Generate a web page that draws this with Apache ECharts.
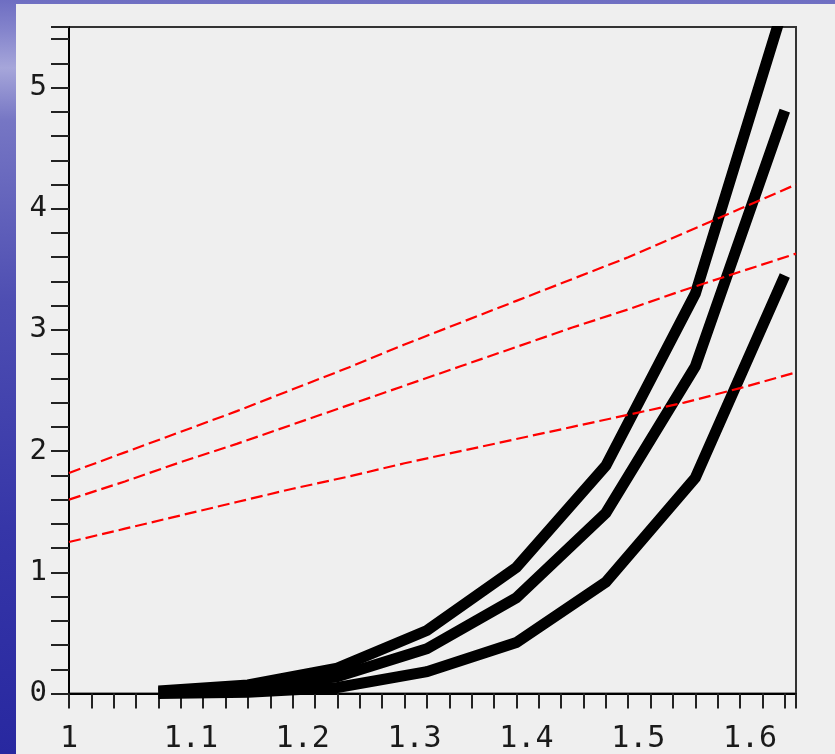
<!DOCTYPE html>
<html>
<head>
<meta charset="utf-8">
<script src="https://cdn.jsdelivr.net/npm/echarts@6/dist/echarts.min.js"></script>
<style>
html,body{margin:0;padding:0;background:#2a2aa0;}
#chart{width:835px;height:754px;}
</style>
</head>
<body>
<div id="chart"></div>
<script>
// ---- data ----
var xTickLabels = ['1', '1.1', '1.2', '1.3', '1.4', '1.5', '1.6'];
var yTickLabels = ['0', '1', '2', '3', '4', '5'];

var xBlack = [1.08, 1.16, 1.24, 1.32, 1.40, 1.48, 1.56, 1.64];
var blackTop = [0.02, 0.07, 0.21, 0.52, 1.04, 1.88, 3.30, 5.70];
var blackMid = [0.01, 0.04, 0.14, 0.37, 0.79, 1.49, 2.70, 4.81];
var blackLow = [0.00, 0.01, 0.05, 0.18, 0.42, 0.92, 1.78, 3.45];

var xRed = [1.00, 1.05, 1.10, 1.15, 1.20, 1.25, 1.30, 1.35, 1.40, 1.45, 1.50, 1.55, 1.60, 1.65];
var redTop = [1.82, 1.99, 2.16, 2.33, 2.51, 2.69, 2.88, 3.06, 3.24, 3.42, 3.60, 3.80, 4.00, 4.20];
var redMid = [1.60, 1.75, 1.91, 2.06, 2.22, 2.38, 2.54, 2.70, 2.86, 3.02, 3.17, 3.33, 3.48, 3.63];
var redLow = [1.25, 1.36, 1.47, 1.58, 1.69, 1.79, 1.90, 2.00, 2.10, 2.20, 2.30, 2.40, 2.52, 2.65];

function pairs(xs, ys) {
  return xs.map(function (x, i) { return [x, ys[i]]; });
}

var chart = echarts.init(document.getElementById('chart'), null, {renderer: 'canvas'});

var FONT = '"DejaVu Sans Mono", monospace';

function blackSeries(ys) {
  return {
    type: 'line', data: pairs(xBlack, ys), symbol: 'none', showSymbol: false,
    clip: true, z: 2,
    lineStyle: {color: '#000', width: 11, cap: 'butt', join: 'miter'}
  };
}
function redSeries(ys) {
  return {
    type: 'line', data: pairs(xRed, ys), symbol: 'none', showSymbol: false,
    clip: true, z: 3,
    lineStyle: {color: '#ff0000', width: 2.2, type: [12, 5]}
  };
}

var option = {
  animation: false,
  backgroundColor: 'transparent',
  graphic: [
    {
      type: 'rect', z: -100, silent: true,
      shape: {x: 0, y: 0, width: 835, height: 754},
      style: {
        fill: new echarts.graphic.LinearGradient(0, 0, 0, 1, [
          {offset: 0, color: '#6e6ec2'},
          {offset: 0.04, color: '#8484cc'},
          {offset: 0.09, color: '#a6a6da'},
          {offset: 0.16, color: '#7676c4'},
          {offset: 0.4, color: '#4e4eb2'},
          {offset: 0.7, color: '#3636a8'},
          {offset: 1, color: '#2828a0'}
        ])
      }
    },
    {
      type: 'rect', z: -99, silent: true,
      shape: {x: 16, y: 4, width: 819, height: 750},
      style: {fill: '#efefef'}
    },
    {
      // mask above the plot frame so clipped thick lines end at the frame
      type: 'rect', z: 100, silent: true,
      shape: {x: 72, y: 4, width: 723, height: 22},
      style: {fill: '#efefef'}
    }
  ],
  grid: {
    left: 69, right: 39, top: 27, bottom: 60.5,
    show: true, backgroundColor: 'transparent',
    borderColor: '#333', borderWidth: 2,
    containLabel: false, outerBoundsMode: 'none'
  },
  xAxis: {
    type: 'value', min: 1, max: 1.65, interval: 0.02,
    splitLine: {show: false},
    axisLine: {show: true, onZero: false, lineStyle: {color: '#000', width: 2}},
    axisTick: {show: true, inside: false, length: 15, lineStyle: {color: '#222', width: 2}},
    axisLabel: {
      margin: 31,
      fontFamily: FONT, fontSize: 30, color: '#1a1a1a',
      showMinLabel: true, showMaxLabel: true, hideOverlap: false,
      formatter: function (v) {
        var k = Math.round((v - 1) * 10);
        if (Math.abs((v - 1) * 10 - k) > 1e-6 || k < 0 || k >= xTickLabels.length) return '';
        if (k === 0) return xTickLabels[0];
        return '{s|' + xTickLabels[k] + '}';
      },
      rich: {
        s: {fontFamily: FONT, fontSize: 30, color: '#1a1a1a', padding: [0, 0, 0, 20]}
      }
    }
  },
  yAxis: {
    type: 'value', min: 0, max: 5.5, interval: 0.2,
    splitLine: {show: false},
    axisLine: {show: true, onZero: false, lineStyle: {color: '#000', width: 2}},
    axisTick: {show: true, inside: false, length: 18, lineStyle: {color: '#222', width: 2}},
    axisLabel: {
      margin: 22,
      fontFamily: FONT, fontSize: 29, color: '#1a1a1a',
      showMinLabel: true, showMaxLabel: true, hideOverlap: false,
      formatter: function (v) {
        var k = Math.round(v);
        if (Math.abs(v - k) > 1e-6 || k < 0 || k >= yTickLabels.length) return '';
        return yTickLabels[k];
      }
    }
  },
  series: [
    blackSeries(blackTop),
    blackSeries(blackMid),
    blackSeries(blackLow),
    redSeries(redTop),
    redSeries(redMid),
    redSeries(redLow)
  ]
};
chart.setOption(option);
</script>
</body>
</html>
